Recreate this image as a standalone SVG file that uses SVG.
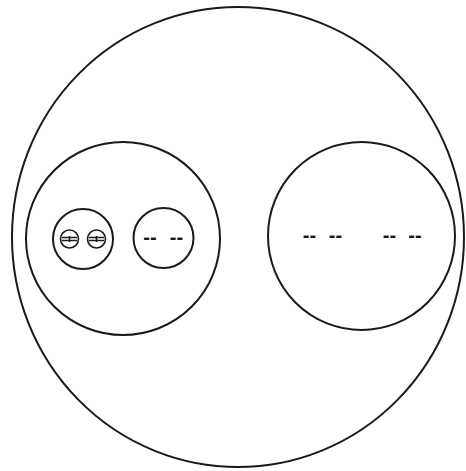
<svg xmlns="http://www.w3.org/2000/svg" width="466" height="471" viewBox="0 0 466 471">
<style>
.c{fill:none;stroke:#1a1a1a;stroke-width:2}
.t{fill:none;stroke:#1a1a1a;stroke-width:1.6}
.d{font-family:"Liberation Sans",Arial,sans-serif;font-weight:bold;font-size:20px;fill:#1a1a1a;text-anchor:middle}
</style>
<rect width="466" height="471" fill="#ffffff"/>
<g id="outer"><ellipse class="c" cx="238" cy="237" rx="226" ry="230"/></g>
<g id="left"><ellipse class="c" cx="123" cy="238.5" rx="97" ry="96.5"/></g>
<g id="right"><ellipse class="c" cx="361.5" cy="236" rx="93.5" ry="94"/>
<text class="d" x="309.5" y="242">--</text>
<text class="d" x="335.5" y="242">--</text>
<text class="d" x="389.5" y="242">--</text>
<text class="d" x="415" y="242">--</text>
</g>
<g id="small1"><circle class="c" cx="83" cy="239" r="30"/>
<g id="tiny1"><circle class="t" cx="69.5" cy="239" r="9"/>
<path class="t" d="M62 237.5H77M62 240.5H77M69.5 236V242" stroke-width="1.3"/></g>
<g id="tiny2"><circle class="t" cx="96.5" cy="239" r="9"/>
<path class="t" d="M89 237.5H104M89 240.5H104M96.5 236V242" stroke-width="1.3"/></g>
</g>
<g id="small2"><circle class="c" cx="163.5" cy="238" r="30"/>
<text class="d" x="150" y="244">--</text>
<text class="d" x="176.5" y="244">--</text>
</g>
<g id="connectors"></g>
</svg>
